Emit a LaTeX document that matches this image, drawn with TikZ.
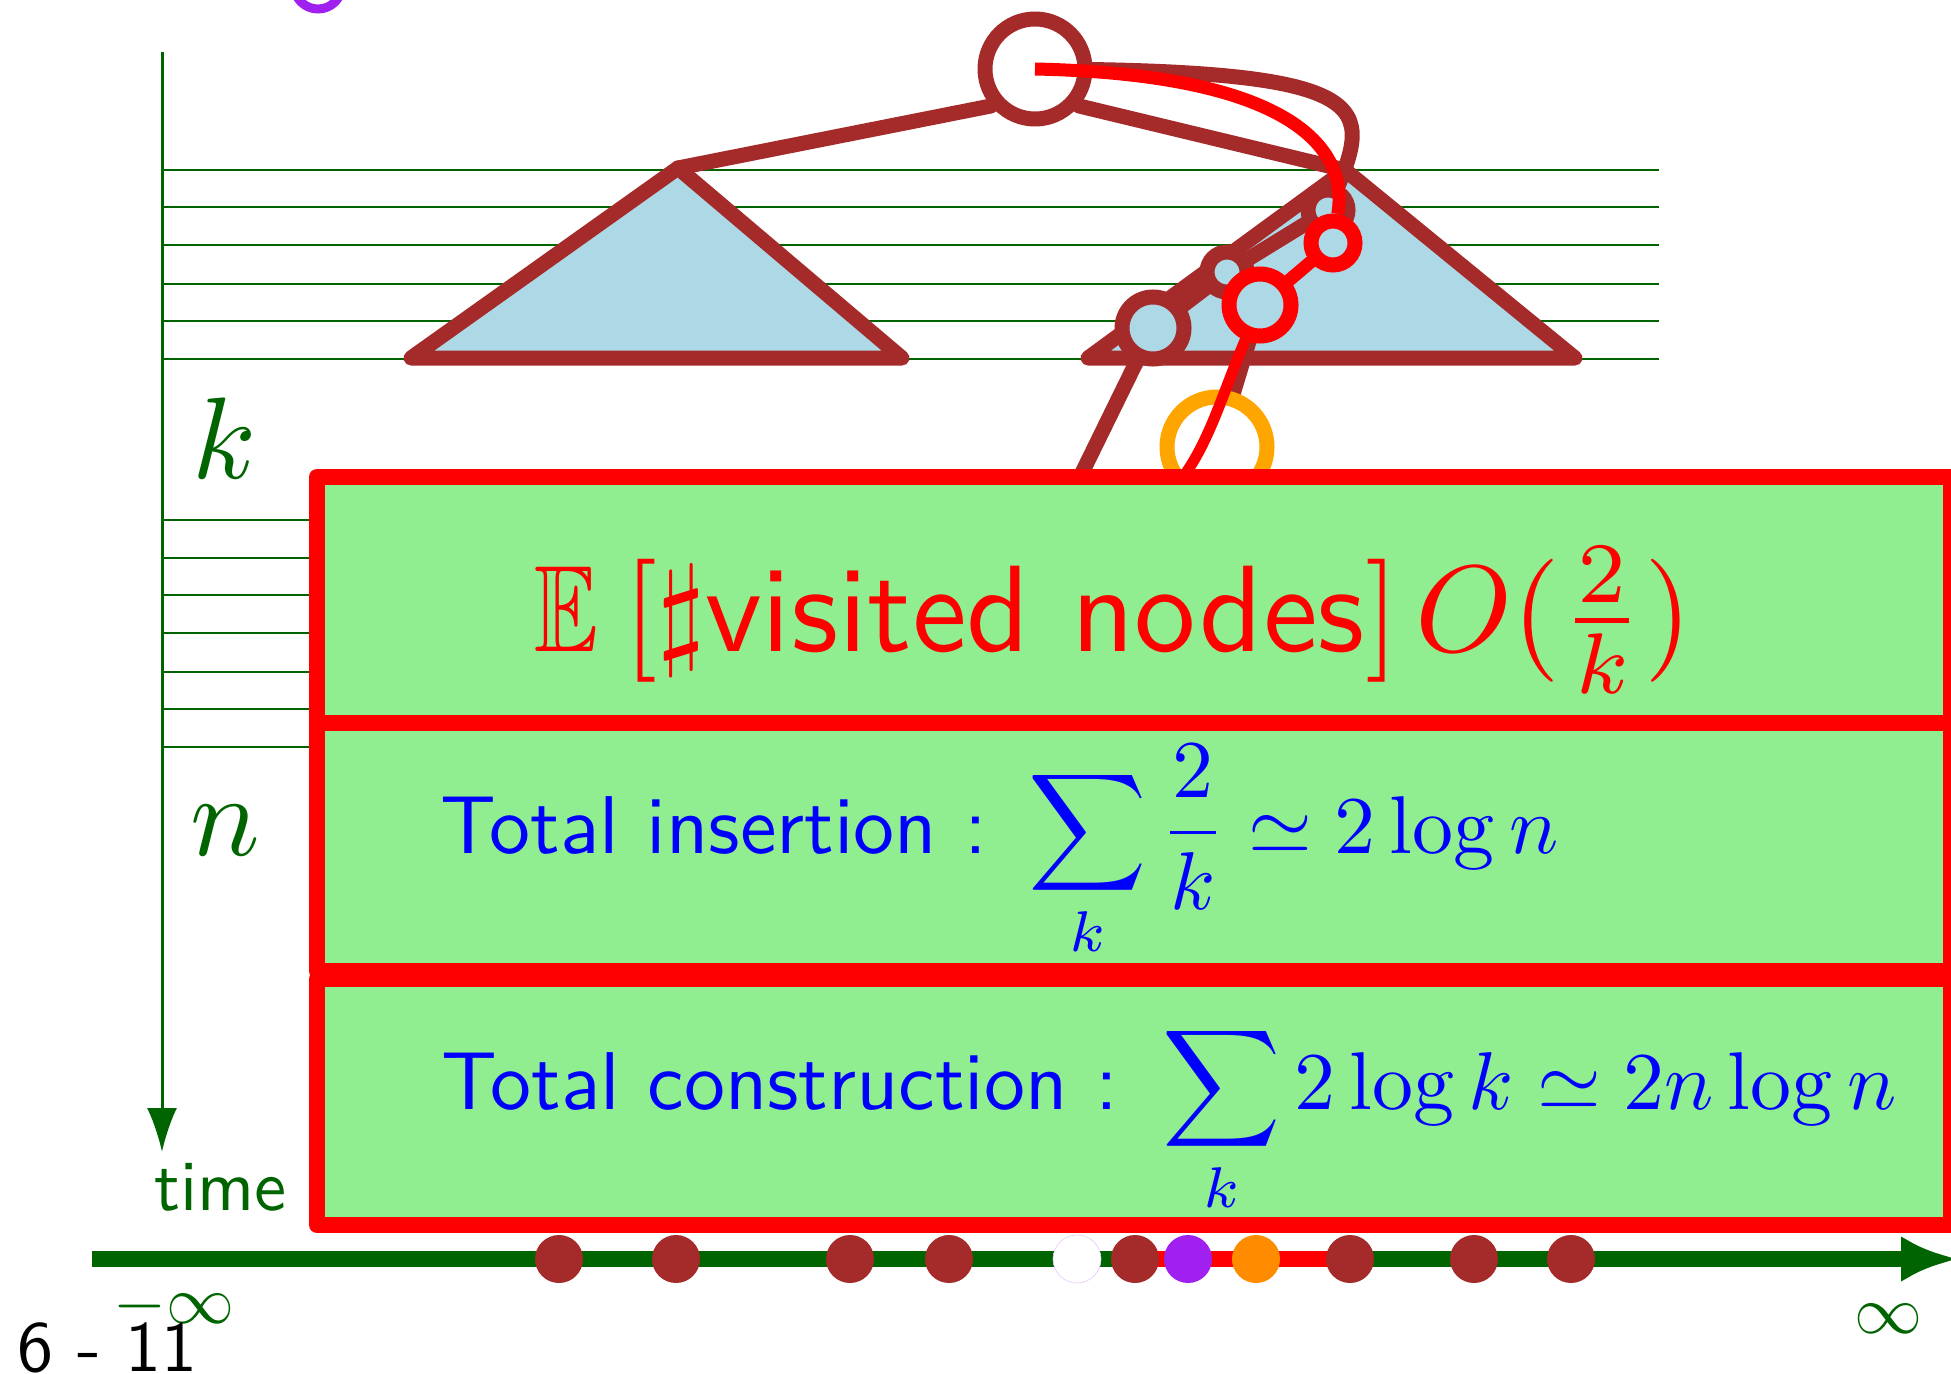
\documentclass[tikz,border=0pt]{standalone}
\usepackage{amssymb}
\usetikzlibrary{arrows.meta}
\definecolor{brn}{HTML}{A52A2A}
\definecolor{lblue}{HTML}{ADD8E6}
\definecolor{lgreen}{HTML}{90EE90}
\definecolor{dkgreen}{HTML}{006400}
\definecolor{purp}{HTML}{A020F0}
\definecolor{dorange}{HTML}{FF8C00}
\definecolor{orng}{HTML}{FFA500}
\begin{document}
\begin{tikzpicture}[x=1pt,y=-1pt,
  gridline/.style={draw=dkgreen, line width=2.8pt},
  brnline/.style={draw=brn, line width=15pt, line cap=round, line join=round},
  redline/.style={draw=red, line width=13pt, line cap=round},
  rootnode/.style={circle, draw=brn, line width=15pt, fill=white, inner sep=0pt, minimum size=100pt},
  bnode/.style={circle, draw=brn, line width=15pt, fill=lblue, inner sep=0pt},
  rnode/.style={circle, draw=red, line width=15pt, fill=lblue, inner sep=0pt},
  orangenode/.style={circle, draw=orng, line width=15pt, fill=white, inner sep=0pt, minimum size=100pt},
  boxstyle/.style={draw=red, line width=16pt, fill=lgreen, line join=round},
  dotstyle/.style={circle, inner sep=0pt, minimum size=48pt},
  lbl/.style={inner sep=0pt, anchor=base west, font=\fontsize{10}{12}\selectfont}]
\useasboundingbox (0,0) rectangle (1951,1373);
\clip (0,0) rectangle (1951,1373);

% purple circle partly out of frame
\node[circle, draw=purp, line width=9pt, minimum size=48pt, inner sep=0pt] (pc) at (318,-15) {};

% grid lines
\foreach \yy in {170,207,245,284,321,359,520,558,595,633,672,709,747}
  \draw[gridline] (162,\yy) -- (1659,\yy);

% time axis
\coordinate (tTop) at (162,52);
\coordinate (tBot) at (162,1152);
\draw[dkgreen, line width=3pt, -{Latex[length=44pt,width=30pt]}] (tTop) -- (tBot);

% tree positions
\coordinate (pRoot) at (1035,69);
\coordinate (lapex) at (678,168);
\coordinate (rapex) at (1345,170);
\coordinate (pA) at (1153,328);
\coordinate (pB) at (1227,272);
\coordinate (pC) at (1328,210);
\coordinate (pD) at (1260,305);
\coordinate (pE) at (1333,243);
\coordinate (pO) at (1217,447);
\coordinate (Abot) at (1080,477);
\coordinate (Dbot) at (1183,477);

\draw[brnline, fill=lblue] (411,358) -- (lapex) -- (902,358) -- cycle;
\draw[brnline, fill=lblue] (1088,358) -- (rapex) -- (1575,358) -- cycle;
\draw[brnline] (pRoot) .. controls (1400,70) and (1370,110) .. (pC);
\draw[brnline] (pA) -- (pB) -- (pC);
\draw[brnline] (pA) -- (Abot);
\draw[brnline] (pD) -- (pO);

\node[rootnode] (root) at (pRoot) {};
\draw[brnline] (root.220) -- (lapex);
\draw[brnline] (root.320) -- (rapex);
\node[bnode, minimum size=62pt] (A) at (pA) {};
\node[bnode, minimum size=40pt] (B) at (pB) {};
\node[bnode, minimum size=40pt] (C) at (pC) {};
\draw[redline] (pD) -- (pE);
\node[rnode, minimum size=62pt] (D) at (pD) {};
\node[rnode, minimum size=44pt] (E) at (pE) {};
\draw[redline, line cap=butt] (root.center) .. controls (1275,74) and (1350,140) .. (E);
\node[orangenode] (O) at (pO) {};
\draw[redline, line width=11pt] (D) .. controls (1222,395) and (1210,440) .. (Dbot);

% boxes
\draw[boxstyle] (317,477) rectangle (1951,723);
\draw[boxstyle] (317,723) rectangle (1951,971);
\draw[boxstyle] (317,979) rectangle (1951,1225);

\node[lbl, text=red, scale=12.3] (t1) at (532,651)
  {\sffamily \scalebox{0.78}[1]{$\mathbb{E}$}\hspace{2pt}$[\sharp$visited nodes$]$\hspace{1.3pt}$O(\frac{2}{k})$};
\node[lbl, text=blue, scale=8.2] (t2) at (439,853)
  {\sffamily Total insertion :\hspace{0.6pt} $\displaystyle\sum_k \frac{2}{k} \simeq 2\log n$};
\node[lbl, text=blue, scale=8.2] (t3) at (440,1109)
  {\sffamily Total construction :\hspace{1pt} $\displaystyle\sum_k 2\log k \simeq 2n\log n$};

% side labels
\node[lbl, text=dkgreen, scale=11.6] (lk) at (190,478) {$k$};
\node[lbl, text=dkgreen, scale=11.6] (ln) at (188,855) {$n$};
\node[lbl, text=dkgreen, scale=7.2] (ltime) at (153,1210) {\sffamily time};

% bottom axis
\coordinate (axL) at (92,1259);
\coordinate (axR) at (1958,1259);
\draw[dkgreen, line width=16pt, -{Latex[length=57pt,width=46pt]}] (axL) -- (axR);
\coordinate (q1) at (559,1259);
\coordinate (q2) at (676,1259);
\coordinate (q3) at (850,1259);
\coordinate (q4) at (949,1259);
\coordinate (q5) at (1077,1259);
\coordinate (q6) at (1135,1259);
\coordinate (q7) at (1188,1259);
\coordinate (q8) at (1256,1259);
\coordinate (q9) at (1350,1259);
\coordinate (q10) at (1474,1259);
\coordinate (q11) at (1571,1259);
\draw[red, line width=16pt] (q6) -- (q9);
\foreach \q in {q1,q2,q3,q4,q6,q9,q10,q11}
  \node[dotstyle, fill=brn] (d\q) at (\q) {};
\node[dotstyle, fill=white, draw=purp!25, line width=0.6pt] (dq5) at (q5) {};
\node[dotstyle, fill=purp] (dq7) at (q7) {};
\node[dotstyle, fill=dorange] (dq8) at (q8) {};

\node[lbl, text=dkgreen, scale=6.8] (minf) at (112,1323) {$-\infty$};
\node[lbl, text=dkgreen, scale=6.8] (pinf) at (1853,1333) {$\infty$};
\node[lbl, text=black, scale=7.2] (pg) at (16,1371) {\sffamily 6 - 11};
\end{tikzpicture}
\end{document}
